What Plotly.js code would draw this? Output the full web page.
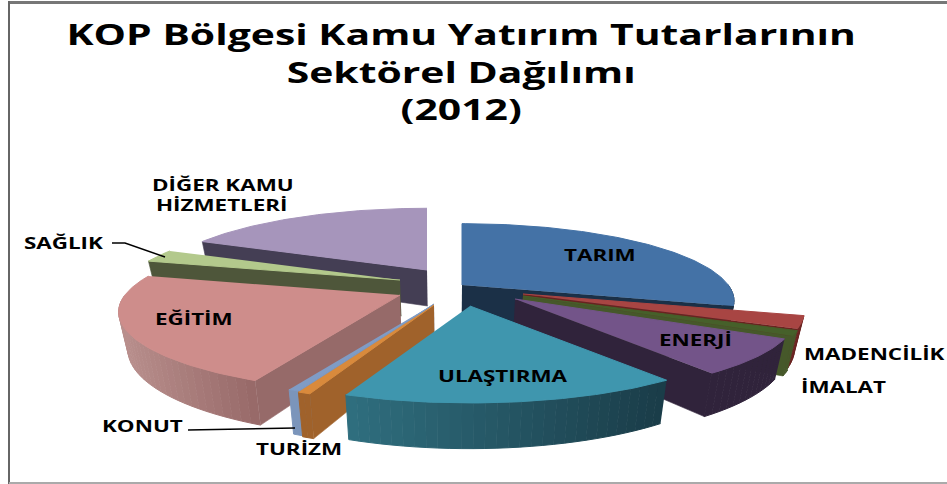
<!DOCTYPE html>
<html><head><meta charset="utf-8">
<script src="https://cdn.plot.ly/plotly-3.0.1.min.js"></script>
<style>html,body{margin:0;padding:0;background:#fff}#c{width:947px;height:484px}
.gtitle{transform-box:fill-box;transform-origin:center;transform:scaleX(1.41)}
text.annotation-text{transform-box:fill-box;transform-origin:center;transform:scaleX(1.4)}
</style>
</head><body><div id="c"></div>
<script>
// Data (share of investment, %)
const categories = ["TARIM","MADENCİLİK","İMALAT","ENERJİ","ULAŞTIRMA","TURİZM","KONUT","EĞİTİM","SAĞLIK","DİĞER KAMU HİZMETLERİ"];
const values = [29.3,2.5,1.0,7.1,16.0,0.6,0.5,22.2,2.6,18.2];
// Styles
const topColors = ["#4472a6","#a84543","#46602a","#735489","#3f96ae","#d98a3c","#7f9cc6","#ce8d8b","#b3c98c","#a695bb"];
const cutColors = ["#1b3047","#6a2320","#46582a","#30233b","#1c3e4b","#a0622b","#7b95bb","#966a69","#4e563a","#443e54"];
const arcLeft   = ["#1b3047","#6a2320","#46582a","#30233b","#2f6e7e","#a0622b","#7b95bb","#b98f8d","#4e563a","#443e54"];
const arcRight  = ["#1b3047","#6a2320","#46582a","#30233b","#1a3c48","#a0622b","#7b95bb","#976968","#4e563a","#443e54"];
// Explosion of each slice from the pie centre, and its relative radius
const pullX = [22,83,83,75,30,-6,-6,-40,-40,-13];
const pullY = [0,9,11,14,21,20,19,10,-5,-15];
const radius = [0.968,1,1,1,1,1,1,1,1,0.975];
const drawOrder = [9,8,7,6,5,0,1,2,3,4];
const centre = {x:440,y:285}, rx=275, ry=76.4, persp=0.212, depth=36, vanishX=450, shrink=0.972;

function hex(c){return [1,3,5].map(i=>parseInt(c.substr(i,2),16));}
function mix(a,b,t){const A=hex(a),B=hex(b);return "rgb("+A.map((v,i)=>Math.round(v+(B[i]-v)*t)).join(",")+")";}
function project(i,deg,r){
  const th=deg*Math.PI/180,u=Math.sin(th)*r,v=Math.cos(th)*r,s=1/(1+persp*v);
  return {x:centre.x+pullX[i]+rx*u*s, y:centre.y+pullY[i]-ry*v*s, s:s};
}
function low(p){return {x:vanishX+(p.x-vanishX)*shrink, y:p.y+depth*p.s};}
function poly(pts,color,name,w){
  return {type:"scatter",mode:"lines",x:pts.map(p=>p.x),y:pts.map(p=>p.y),fill:"toself",fillcolor:color,
    line:{color:color,width:w||0.6},hoverinfo:"text",text:name,showlegend:false};
}
const total=values.reduce((a,b)=>a+b,0);
const starts=[];let acc=0;values.forEach(v=>{starts.push(acc/total*360);acc+=v;});
const traces=[];
const sinD=d=>Math.sin(d*Math.PI/180), cosD=d=>Math.cos(d*Math.PI/180);
drawOrder.forEach(i=>{
  const a=starts[i],b=a+values[i]/total*360,name=categories[i],r=radius[i];
  const apex=project(i,0,0),pa=project(i,a,r),pb=project(i,b,r);
  // only the cut faces that turn towards the viewer
  if(sinD(b)>0.01) traces.push(poly([apex,pb,low(pb),low(apex)],cutColors[i],name));
  if(sinD(a)<-0.01) traces.push(poly([apex,pa,low(pa),low(apex)],cutColors[i],name));
  const seg=Math.max(1,Math.ceil((b-a)/2));
  let xmin=1e9,xmax=-1e9;
  for(let d=a;d<=b;d+=1){const p=project(i,d,r);xmin=Math.min(xmin,p.x);xmax=Math.max(xmax,p.x);}
  for(let k=0;k<seg;k++){
    const d0=a+(b-a)*k/seg,d1=a+(b-a)*(k+1)/seg;
    if(cosD((d0+d1)/2)>0) continue; // back of the rim is hidden
    const p0=project(i,d0,r),p1=project(i,d1,r);
    const t=((p0.x+p1.x)/2-xmin)/Math.max(1,xmax-xmin);
    traces.push(poly([p0,p1,low(p1),low(p0)],mix(arcLeft[i],arcRight[i],t),name,1));
  }
  const top=[apex];
  const n=Math.max(2,Math.ceil(b-a));
  for(let k=0;k<=n;k++)top.push(project(i,a+(b-a)*k/n,r));
  traces.push(poly(top,topColors[i],name,1));
});
// Leader lines
[[[112,125,165],[243,243,257]],[[188,295],[430,428]]].forEach(l=>traces.push({type:"scatter",mode:"lines",x:l[0],y:l[1],
  line:{color:"#000",width:1.5},hoverinfo:"skip",showlegend:false}));

const labelFont={family:"Open Sans, sans-serif",size:16,color:"#000"};
const labels=[["<b>TARIM</b>",600,255],["<b>ENERJİ</b>",695,340],["<b>ULAŞTIRMA</b>",503,376],["<b>EĞİTİM</b>",194,319],
 ["<b>MADENCİLİK</b>",874,354],["<b>İMALAT</b>",843,387],["<b>TURİZM</b>",299,449],["<b>KONUT</b>",142,426],
 ["<b>SAĞLIK</b>",63,243],["<b>DİĞER KAMU</b>",223,185],["<b>HİZMETLERİ</b>",221,205]];
const frame=(x0,y0,x1,y1,c,w)=>({type:"line",xref:"x",yref:"y",x0,y0,x1,y1,line:{color:c,width:w}});
const layout={width:947,height:484,margin:{l:0,r:0,t:0,b:0},paper_bgcolor:"#fff",plot_bgcolor:"#fff",showlegend:false,
  title:{text:"<b>KOP Bölgesi Kamu Yatırım Tutarlarının<br>Sektörel Dağılımı<br>(2012)</b>",
    font:{family:"Open Sans, sans-serif",size:29,color:"#000"},x:0.487,xanchor:"center",y:0.907,yanchor:"top"},
  xaxis:{range:[0,947],visible:false,fixedrange:true},
  yaxis:{range:[484,0],visible:false,fixedrange:true},
  shapes:[frame(8,2.5,947,2.5,"#777777",3),frame(9,1,9,484,"#666666",2),frame(9,483,947,483,"#aaaaaa",2)],
  annotations:labels.map(l=>({text:l[0],x:l[1],y:l[2],xref:"x",yref:"y",showarrow:false,font:labelFont,align:"center",xanchor:"center",yanchor:"middle"}))
};
Plotly.newPlot("c",traces,layout,{displayModeBar:false,responsive:false});
</script></body></html>
